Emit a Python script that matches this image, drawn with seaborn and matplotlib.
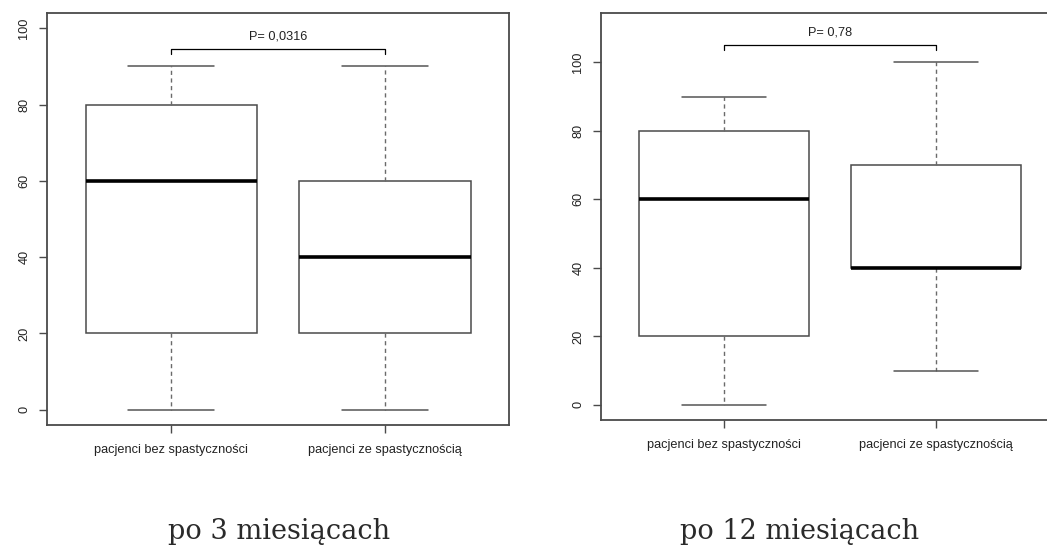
import pandas as pd
import matplotlib
matplotlib.use("Agg")
import matplotlib.pyplot as plt
import seaborn as sns

# Dane (pięć liczb: min, Q1, mediana, Q3, max)
groups = ["pacjenci bez spastyczności", "pacjenci ze spastycznością"]
m3_bez = [0, 20, 60, 80, 90]
m3_ze = [0, 20, 40, 60, 90]
m12_bez = [0, 20, 60, 80, 90]
m12_ze = [10, 40, 40, 70, 100]
p_values = ["P= 0,0316", "P= 0,78"]
captions = ["po 3 miesiącach", "po 12 miesiącach"]
yticks = [0, 20, 40, 60, 80, 100]

FRAME = "#4a4a4a"
TEXT = "#222222"


def make_df(bez, ze):
    return pd.DataFrame({
        "grupa": [groups[0]] * len(bez) + [groups[1]] * len(ze),
        "wartosc": bez + ze,
    })


def draw_panel(ax, df, ylim, bracket_y, p_text):
    sns.boxplot(
        data=df, x="grupa", y="wartosc", order=groups, ax=ax,
        color="white", saturation=1, width=0.8, whis=1.5, showfliers=False,
        linecolor=FRAME, linewidth=1.1,
        whiskerprops={"linestyle": (0, (3, 2.5)), "color": "#6a6a6a", "linewidth": 1.0},
        capprops={"color": "#555555", "linewidth": 1.1},
        medianprops={"color": "black", "linewidth": 2.6},
    )
    ax.set_xlim(-0.58, 1.58)
    ax.set_ylim(*ylim)
    ax.set_yticks(yticks)
    ax.set_xlabel("")
    ax.set_ylabel("")
    for side in ["top", "right", "bottom", "left"]:
        ax.spines[side].set_visible(True)
        ax.spines[side].set_color(FRAME)
        ax.spines[side].set_linewidth(1.3)
    ax.tick_params(axis="both", direction="out", length=6, width=1.0,
                   color=FRAME, labelcolor=TEXT, labelsize=9.2,
                   bottom=True, left=True)
    ax.tick_params(axis="x", pad=8)
    ax.tick_params(axis="y", pad=6, labelrotation=90)
    for lbl in ax.get_yticklabels():
        lbl.set_va("center")
    # nawias z wartością p
    drop = (ylim[1] - ylim[0]) * 0.012
    ax.plot([0, 0, 1, 1], [bracket_y - drop, bracket_y, bracket_y, bracket_y - drop],
            color="black", linewidth=0.9)
    ax.text(0.5, bracket_y + (ylim[1] - ylim[0]) * 0.03, p_text, ha="center",
            va="center", fontsize=9.2, color=TEXT)


sns.set_style("white")
plt.rcParams["font.family"] = ["Liberation Sans", "DejaVu Sans"]

fig = plt.figure(figsize=(10.47, 5.46), dpi=100)
ax1 = fig.add_axes([0.0449, 0.2216, 0.4413, 0.7546])
ax2 = fig.add_axes([0.5740, 0.2308, 0.4374, 0.7454])

draw_panel(ax1, make_df(m3_bez, m3_ze), (-4, 104), 94.5, p_values[0])
draw_panel(ax2, make_df(m12_bez, m12_ze), (-4.4, 114.4), 105, p_values[1])

fig.text(0.267, 0.0128, captions[0], ha="center", va="baseline",
         fontsize=19.5, color="#2a2a2a", family="DejaVu Serif")
fig.text(0.764, 0.0128, captions[1], ha="center", va="baseline",
         fontsize=19.5, color="#2a2a2a", family="DejaVu Serif")

fig.savefig("out.png", dpi=100)
